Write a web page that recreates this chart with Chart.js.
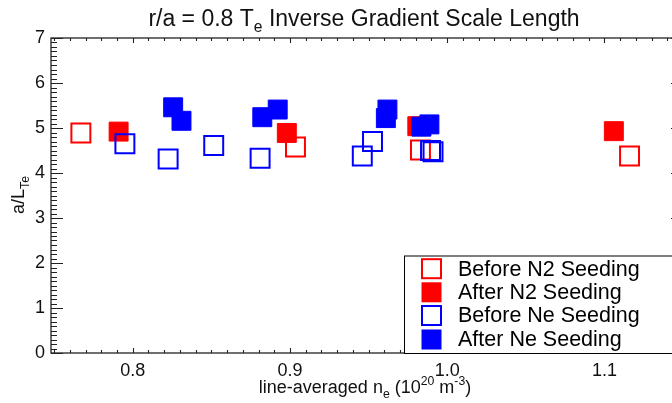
<!DOCTYPE html>
<html>
<head>
<meta charset="utf-8">
<script src="https://cdn.jsdelivr.net/npm/chart.js@4.4.0/dist/chart.umd.min.js"></script>
<style>
  html, body { margin: 0; padding: 0; background: #fff; overflow: hidden; }
  #wrap { position: relative; width: 700px; height: 403px; }
</style>
</head>
<body>
<div id="wrap"><canvas id="chart" width="700" height="403"></canvas></div>
<script>
// a/L_Te at r/a = 0.8 vs line-averaged density, before/after seeding
var beforeN2X = [0.767, 0.9035, 0.983, 1.116];
var beforeN2Y = [4.89, 4.58, 4.51, 4.38];
var afterN2X = [0.791, 0.898, 0.981, 1.106];
var afterN2Y = [4.92, 4.89, 5.04, 4.93];
var beforeNeX = [0.795, 0.8225, 0.8515, 0.881, 0.946, 0.9525, 0.9894, 0.991];
var beforeNeY = [4.65, 4.31, 4.61, 4.33, 4.38, 4.70, 4.50, 4.47];
var afterNeX = [0.8257, 0.831, 0.8824, 0.8922, 0.962, 0.961, 0.9887, 0.9836];
var afterNeY = [5.46, 5.16, 5.24, 5.41, 5.41, 5.22, 5.08, 5.03];

var seriesLabels = ['Before N2 Seeding', 'After N2 Seeding', 'Before Ne Seeding', 'After Ne Seeding'];
var xTickValues = [0.8, 0.9, 1.0, 1.1];
var yTickValues = [0, 1, 2, 3, 4, 5, 6, 7];

var FONT = '"Liberation Sans", Arial, Helvetica, sans-serif';

function pts(xs, ys) {
  return xs.map(function(x, i) { return { x: x, y: ys[i] }; });
}

// draws text with sub/superscript pieces, centred on x
function drawRich(ctx, parts, x, y, size) {
  var w = 0;
  parts.forEach(function(p) {
    ctx.font = (p.sub || p.sup ? size * 0.68 : size) + 'px ' + FONT;
    p.w = ctx.measureText(p.t).width;
    w += p.w;
  });
  var cx = x - w / 2;
  parts.forEach(function(p) {
    ctx.font = (p.sub || p.sup ? size * 0.68 : size) + 'px ' + FONT;
    var dy = p.sub ? size * 0.28 : (p.sup ? -size * 0.42 : 0);
    ctx.fillText(p.t, cx, y + dy);
    cx += p.w;
  });
}

var idlFrame = {
  id: 'idlFrame',
  afterDraw: function(chart) {
    var ctx = chart.ctx;
    var a = chart.chartArea;
    var xs = chart.scales.x, ys = chart.scales.y;
    ctx.save();
    ctx.strokeStyle = '#222';
    ctx.lineWidth = 1.3;
    ctx.strokeRect(a.left, a.top, a.right - a.left, a.bottom - a.top);

    ctx.lineWidth = 1.1;
    ctx.beginPath();
    for (var i = 75; i <= 115; i++) {
      var px = Math.round(xs.getPixelForValue(i / 100)) + 0.5;
      var len = i % 10 === 0 ? 5 : 3;
      ctx.moveTo(px, a.bottom); ctx.lineTo(px, a.bottom - len);
      ctx.moveTo(px, a.top); ctx.lineTo(px, a.top + len);
    }
    for (var j = 0; j <= 70; j++) {
      var py = Math.round(ys.getPixelForValue(j / 10)) + 0.5;
      var l2 = j % 10 === 0 ? 12 : 6;
      ctx.moveTo(a.left, py); ctx.lineTo(a.left + l2, py);
      ctx.moveTo(a.right, py); ctx.lineTo(a.right - l2, py);
    }
    ctx.stroke();

    // legend box
    var lx = 404, ly = 255.5;
    ctx.fillStyle = '#fff';
    ctx.fillRect(lx, ly, chart.width - lx, a.bottom - ly);
    ctx.strokeStyle = '#000';
    ctx.lineWidth = 1;
    ctx.strokeRect(lx + 0.5, ly + 0.5, chart.width - lx + 5, a.bottom - ly);
    var rows = [268.7, 292.3, 315.5, 339.5];
    chart.data.datasets.forEach(function(ds, k) {
      var cy = rows[k];
      if (ds.backgroundColor === 'transparent') {
        ctx.strokeStyle = ds.borderColor;
        ctx.lineWidth = 2;
        ctx.strokeRect(422, cy - 9.5, 19, 19);
      } else {
        ctx.fillStyle = ds.backgroundColor;
        ctx.fillRect(421.5, cy - 10, 20, 20);
      }
      ctx.fillStyle = '#000';
      ctx.font = '21.5px ' + FONT;
      ctx.textBaseline = 'middle';
      ctx.textAlign = 'left';
      ctx.fillText(ds.label, 458, cy + 1);
    });

    // titles
    ctx.fillStyle = '#111';
    ctx.textBaseline = 'alphabetic';
    ctx.textAlign = 'left';
    drawRich(ctx, [{ t: 'r/a = 0.8 T' }, { t: 'e', sub: true }, { t: ' Inverse Gradient Scale Length' }], 364, 26, 23);
    drawRich(ctx, [{ t: 'line-averaged n' }, { t: 'e', sub: true }, { t: ' (10' }, { t: '20', sup: true }, { t: ' m' }, { t: '-3', sup: true }, { t: ')' }], 365, 393, 18);
    ctx.translate(24, 195);
    ctx.rotate(-Math.PI / 2);
    drawRich(ctx, [{ t: 'a/L' }, { t: 'Te', sub: true }], 0, 0, 18);
    ctx.restore();
  }
};

function openSet(label, xs, ys, color) {
  return {
    label: label, data: pts(xs, ys), pointStyle: 'rect', pointRadius: 13.4,
    backgroundColor: 'transparent', borderColor: color, borderWidth: 2
  };
}
function filledSet(label, xs, ys, color) {
  return {
    label: label, data: pts(xs, ys), pointStyle: 'rect', pointRadius: 13.4,
    backgroundColor: color, borderColor: color, borderWidth: 1
  };
}

var datasets = [
  openSet(seriesLabels[0], beforeN2X, beforeN2Y, '#ff0000'),
  filledSet(seriesLabels[1], afterN2X, afterN2Y, '#ff0000'),
  openSet(seriesLabels[2], beforeNeX, beforeNeY, '#0000ff'),
  filledSet(seriesLabels[3], afterNeX, afterNeY, '#0000ff')
];
// later series drawn on top
datasets.forEach(function(ds, i) { ds.order = datasets.length - i; });

new Chart(document.getElementById('chart'), {
  type: 'scatter',
  data: { datasets: datasets },
  options: {
    responsive: false,
    animation: false,
    events: [],
    layout: { autoPadding: false, padding: { top: 38, right: 17, left: 0, bottom: 0 } },
    plugins: { legend: { display: false }, title: { display: false }, tooltip: { enabled: false } },
    scales: {
      x: {
        type: 'linear', min: 0.748, max: 1.15,
        afterBuildTicks: function(s) { s.ticks = xTickValues.map(function(v) { return { value: v }; }); },
        afterFit: function(s) { s.height = 50; },
        grid: { display: false, drawTicks: false },
        border: { display: false },
        ticks: { padding: 7, color: '#111', font: { family: FONT, size: 18 }, maxRotation: 0,
                 callback: function(v) { return v.toFixed(1); } }
      },
      y: {
        type: 'linear', min: 0, max: 7,
        afterBuildTicks: function(s) { s.ticks = yTickValues.map(function(v) { return { value: v }; }); },
        afterFit: function(s) { s.width = 51; },
        grid: { display: false, drawTicks: false },
        border: { display: false },
        ticks: { padding: 6, color: '#111', font: { family: FONT, size: 18 } }
      }
    }
  },
  plugins: [idlFrame]
});
</script>
</body>
</html>
